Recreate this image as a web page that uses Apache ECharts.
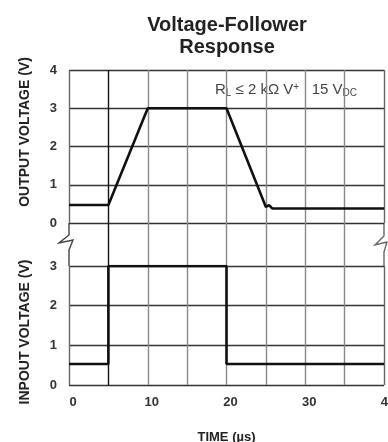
<html>
<head>
  <meta charset="utf-8">
  <title>Voltage-Follower Response</title>
  <script src="https://cdn.jsdelivr.net/npm/echarts@6/dist/echarts.min.js"></script>
</head>
<body style="margin:0;background:#fff;">
<div id="main" style="width:388px;height:442px;"></div>
<script>
  // output trace (us, V)
  var outTime = [0, 5, 10, 20, 25, 25.4, 25.8, 40];
  var outVolt = [0.47, 0.47, 3, 3, 0.42, 0.47, 0.38, 0.38];
  // input pulse
  var inTime = [0, 5, 5, 20, 20, 40];
  var inVolt = [0.53, 0.53, 3, 3, 0.53, 0.53];
  var timeTicks = [0, 10, 20, 30, 40];

  var font = '"Liberation Sans", Arial, sans-serif';
  var vGrid = ['#666', '#111', '#888', '#888', '#888', '#888', '#888', '#888', '#666'];
  var vGap = ['transparent', '#111', '#888', '#888', '#888', '#888', '#888', '#888', 'transparent'];

  function pairs(xs, ys) {
    return xs.map(function (x, i) { return [x, ys[i]]; });
  }

  function xAxisOf(grid, colors, showLabels) {
    return {
      type: 'value', gridIndex: grid, min: 0, max: 40, interval: 5,
      axisLine: {show: false}, axisTick: {show: false},
      axisLabel: {
        show: showLabels, margin: 11, padding: [0, 0, 0, 8],
        color: '#333', fontSize: 13, fontWeight: 'bold', fontFamily: font,
        formatter: function (v) { return timeTicks.indexOf(v) >= 0 ? String(v) : ''; }
      },
      splitLine: {show: true, lineStyle: {color: colors, width: 1.4}}
    };
  }

  function yAxisOf(grid, max) {
    return {
      type: 'value', gridIndex: grid, min: 0, max: max, interval: 1,
      axisLine: {show: false}, axisTick: {show: false},
      axisLabel: {margin: 12, color: '#333', fontSize: 13, fontWeight: 'bold', fontFamily: font},
      splitLine: {show: true, lineStyle: {color: '#333', width: 1.3}}
    };
  }

  var myChart = echarts.init(document.getElementById('main'));

  var xa0 = xAxisOf(0, vGrid, false);
  var xa1 = xAxisOf(1, vGap, false);
  var xa2 = xAxisOf(2, vGrid, true);
  xa2.name = 'TIME (\u00b5s)';
  xa2.nameLocation = 'middle';
  xa2.nameGap = 46;
  xa2.nameTextStyle = {color: '#222', fontSize: 13, fontWeight: 'bold', fontFamily: font};

  var option = {
    animation: false,
    grid: [
      {left: 69, right: 4, top: 70, height: 153, outerBoundsMode: 'none'},
      {left: 69, right: 4, top: 223, height: 43, outerBoundsMode: 'none'},
      {left: 69, right: 4, top: 266, height: 119, outerBoundsMode: 'none'}
    ],
    xAxis: [xa0, xa1, xa2],
    yAxis: [
      yAxisOf(0, 4),
      {type: 'value', gridIndex: 1, show: false, min: 0, max: 1},
      yAxisOf(2, 3)
    ],
    series: [
      {
        name: 'Output', type: 'line', xAxisIndex: 0, yAxisIndex: 0,
        data: pairs(outTime, outVolt), symbol: 'none',
        lineStyle: {color: '#111', width: 2.6}
      },
      {
        name: 'Input', type: 'line', xAxisIndex: 2, yAxisIndex: 2,
        data: pairs(inTime, inVolt), symbol: 'none',
        lineStyle: {color: '#111', width: 2.6}
      }
    ],
    graphic: [
      {
        type: 'text', x: 227, y: 14,
        style: {
          text: 'Voltage-Follower\nResponse', textAlign: 'center', lineHeight: 22,
          font: 'bold 20px ' + font, fill: '#222'
        }
      },
      {
        type: 'text', x: 25, y: 132, rotation: Math.PI / 2,
        style: {
          text: 'OUTPUT VOLTAGE (V)', textAlign: 'center', textVerticalAlign: 'middle',
          font: 'bold 14px ' + font, fill: '#222'
        }
      },
      {
        type: 'text', x: 25, y: 332, rotation: Math.PI / 2,
        style: {
          text: 'INPOUT VOLTAGE (V)', textAlign: 'center', textVerticalAlign: 'middle',
          font: 'bold 14px ' + font, fill: '#222'
        }
      },
      {
        type: 'text', x: 215, y: 82,
        style: {
          text: 'R{sub|L} \u2264 2 k\u03a9 V{sup|+}   15 V{sub|DC}',
          font: '15px ' + font, fill: '#444',
          rich: {
            sub: {fontSize: 10, fontFamily: font, fill: '#444', padding: [6, 0, 0, 0]},
            sup: {fontSize: 10, fontFamily: font, fill: '#444', padding: [0, 0, 6, 0]}
          }
        }
      },
      {
        type: 'polyline',
        shape: {points: [[69, 223], [69, 235], [59, 243], [73, 240], [69, 250], [69, 266]]},
        style: {stroke: '#444', lineWidth: 1.4, fill: null}
      },
      {
        type: 'polyline',
        shape: {points: [[384, 223], [384, 236], [375, 245], [387, 242], [384, 252], [384, 266]]},
        style: {stroke: '#666', lineWidth: 1.4, fill: null}
      }
    ]
  };

  myChart.setOption(option);
</script>
</body>
</html>
